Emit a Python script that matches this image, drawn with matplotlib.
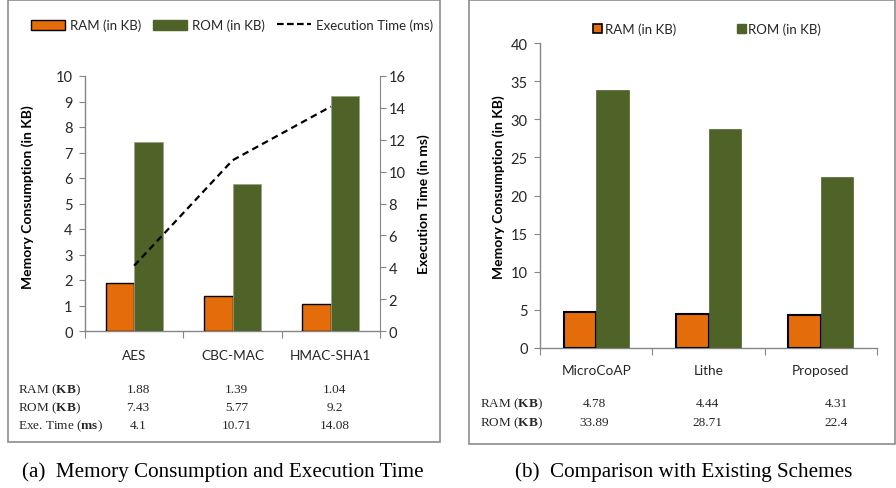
import matplotlib
matplotlib.use("Agg")
import numpy as np
import matplotlib.pyplot as plt
from matplotlib.patches import Rectangle
from matplotlib.lines import Line2D
from matplotlib.transforms import blended_transform_factory

# data, panel (a)
algos = ["AES", "CBC-MAC", "HMAC-SHA1"]
ram_a = [1.88, 1.39, 1.04]
rom_a = [7.43, 5.77, 9.2]
exe_a = [4.1, 10.71, 14.08]
ram_a_txt = ["1.88", "1.39", "1.04"]
rom_a_txt = ["7.43", "5.77", "9.2"]
exe_a_txt = ["4.1", "10.71", "14.08"]

# data, panel (b)
schemes = ["MicroCoAP", "Lithe", "Proposed"]
ram_b = [4.78, 4.44, 4.31]
rom_b = [33.89, 28.71, 22.4]
ram_b_txt = ["4.78", "4.44", "4.31"]
rom_b_txt = ["33.89", "28.71", "22.4"]

ORANGE = "#E46C0A"
GREEN = "#4F6228"
GRID = "#868686"
TXT = "#262626"
SANS = "Lato"
SERIF = "Liberation Serif"

plt.rcParams["font.family"] = SANS
plt.rcParams["mathtext.fontset"] = "custom"
plt.rcParams["mathtext.rm"] = SERIF
plt.rcParams["mathtext.bf"] = SERIF + ":bold"

W, H = 896, 489
fig = plt.figure(figsize=(W / 100, H / 100), dpi=100)


def fx(px):
    return px / W


def fy(py):
    return 1 - py / H


def style_axes(ax, ymax, ystep):
    ax.set_ylim(0, ymax)
    ax.set_yticks(np.arange(0, ymax + 0.01, ystep))
    ax.set_xlim(-0.5, 2.5)
    ax.set_xticks([-0.5, 0.5, 1.5, 2.5])
    ax.set_xticklabels([])
    ax.tick_params(axis="x", which="major", length=5, color=GRID, direction="out")
    ax.tick_params(axis="y", length=4, color=GRID, labelsize=10.5, labelcolor=TXT, pad=5)
    for s in ["top", "right"]:
        ax.spines[s].set_visible(False)
    for s in ["left", "bottom"]:
        ax.spines[s].set_color(GRID)
        ax.spines[s].set_linewidth(1)


bw = 0.29

# ---- panel (a)
ax1 = fig.add_axes([fx(85), fy(332), fx(295), (332 - 77) / H])
x = np.arange(len(algos))
ax1.bar(x - bw / 2, ram_a, bw, color=ORANGE, edgecolor="black", linewidth=1, zorder=3)
ax1.bar(x + bw / 2, rom_a, bw, color=GREEN, edgecolor="#9aa585", linewidth=0.6, zorder=3)
style_axes(ax1, 10, 1)
ax1.set_xticks(x, minor=True)
ax1.set_xticklabels(algos, minor=True)
ax1.tick_params(axis="x", which="minor", length=0, pad=13, labelsize=9.8, labelcolor=TXT)
ax1.set_ylabel("Memory Consumption (in KB)", fontsize=10, fontweight="bold", color="black")
ax1.yaxis.set_label_coords(-0.173, 0.53)

ax1r = ax1.twinx()
ax1r.plot(x, exe_a, color="black", linestyle=(0, (3, 2)), linewidth=1.6, zorder=4)
ax1r.set_ylim(0, 16)
ax1r.set_yticks(np.arange(0, 17, 2))
ax1r.tick_params(axis="y", length=4, color=GRID, labelsize=10.5, labelcolor=TXT, pad=2)
for s in ["top", "left", "bottom"]:
    ax1r.spines[s].set_visible(False)
ax1r.spines["right"].set_color(GRID)
ax1r.set_ylabel("Execution Time (in ms)", fontsize=10, fontweight="bold", color="black")
ax1r.yaxis.set_label_coords(1.126, 0.5)

handles_a = [
    Rectangle((0, 0), 1, 1, facecolor=ORANGE, edgecolor="black", linewidth=1),
    Rectangle((0, 0), 1, 1, facecolor=GREEN, edgecolor=GREEN),
    Line2D([0], [0], color="black", linestyle=(0, (3, 1.5)), linewidth=1.6),
]
fig.legend(handles_a, ["RAM (in KB)", "ROM (in KB)", "Execution Time (ms)"],
           loc="center", bbox_to_anchor=(fx(232), fy(26)), ncol=3, frameon=False,
           fontsize=9.5, handlelength=2.6, handleheight=0.8, handletextpad=0.35,
           columnspacing=0.9, labelcolor=TXT)

tr1 = blended_transform_factory(ax1.transData, fig.transFigure)
rows_a = [("RAM ($\\mathbf{KB}$)", ram_a_txt, 390),
          ("ROM ($\\mathbf{KB}$)", rom_a_txt, 408),
          ("Exe. Time ($\\mathbf{ms}$)", exe_a_txt, 426)]
for label, vals, py in rows_a:
    fig.text(fx(18), fy(py), label, fontsize=9.5, family=SERIF, ha="left", va="center", color=TXT)
    for i, v in enumerate(vals):
        fig.text(i + 0.04, fy(py), v, transform=tr1, fontsize=9.5, family=SERIF,
                 ha="center", va="center", color=TXT)

fig.patches.append(Rectangle((fx(8), fy(443)), fx(432), (443 - 1) / H, fill=False,
                             edgecolor="#8c8c8c", linewidth=1.2, transform=fig.transFigure))
fig.text(fx(223), fy(472), "(a)  Memory Consumption and Execution Time", family=SERIF,
         fontsize=15.2, ha="center", va="center", color="black")

# ---- panel (b)
ax2 = fig.add_axes([fx(540), fy(349), fx(337), (349 - 44) / H])
x2 = np.arange(len(schemes))
ax2.bar(x2 - bw / 2, ram_b, bw, color=ORANGE, edgecolor="black", linewidth=1.5, zorder=3)
ax2.bar(x2 + bw / 2, rom_b, bw, color=GREEN, edgecolor=GREEN, linewidth=0.5, zorder=3)
style_axes(ax2, 40, 5)
ax2.set_xticks(x2, minor=True)
ax2.set_xticklabels(schemes, minor=True)
ax2.tick_params(axis="x", which="minor", length=0, pad=11.5, labelsize=9.8, labelcolor=TXT)
ax2.set_ylabel("Memory Consumption (in KB)", fontsize=10, fontweight="bold", color="black")
ax2.yaxis.set_label_coords(-0.104, 0.53)

handles_b = [
    Rectangle((0, 0), 1, 1, facecolor=ORANGE, edgecolor="black", linewidth=1.2),
    Rectangle((0, 0), 1, 1, facecolor=GREEN, edgecolor=GREEN),
]
fig.legend(handles_b, ["RAM (in KB)", "ROM (in KB)"], loc="center",
           bbox_to_anchor=(fx(707), fy(30)), ncol=2, frameon=False, fontsize=9.5,
           handlelength=0.7, handleheight=0.7, handletextpad=0.2, columnspacing=4.6,
           labelcolor=TXT)

tr2 = blended_transform_factory(ax2.transData, fig.transFigure)
nudge_b = [-0.02, -0.01, 0.14]
rows_b = [("RAM ($\\mathbf{KB}$)", ram_b_txt, 404),
          ("ROM ($\\mathbf{KB}$)", rom_b_txt, 423)]
for label, vals, py in rows_b:
    fig.text(fx(480), fy(py), label, fontsize=9.5, family=SERIF, ha="left", va="center", color=TXT)
    for i, v in enumerate(vals):
        fig.text(i + nudge_b[i], fy(py), v, transform=tr2, fontsize=9.5, family=SERIF,
                 ha="center", va="center", color=TXT)

fig.patches.append(Rectangle((fx(469), fy(445)), fx(426), (445 - 0.5) / H, fill=False,
                             edgecolor="#8c8c8c", linewidth=1.2, transform=fig.transFigure))
fig.text(fx(684), fy(472), "(b)  Comparison with Existing Schemes", family=SERIF,
         fontsize=15.2, ha="center", va="center", color="black")

fig.savefig("out.png", dpi=100)
